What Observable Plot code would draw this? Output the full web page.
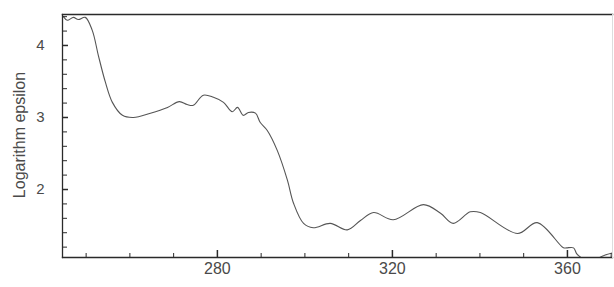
<!DOCTYPE html>
<html>
<head>
<meta charset="utf-8">
<script src="https://cdn.jsdelivr.net/npm/d3@7"></script>
<script src="https://cdn.jsdelivr.net/npm/@observablehq/plot@0.6"></script>
<style>
  html, body { margin: 0; padding: 0; background: #fff; }
  #chart svg { display: block; }
</style>
</head>
<body>
<div id="chart"></div>
<script>
// Wavelength (nm) and logarithm of epsilon
const wavelength = [244.8, 245.7, 247.1, 248.2, 249.8, 251.4, 252.8, 254.4, 256.0, 258.3,
  260.8, 264.7, 268.6, 271.3, 273.1, 274.5, 276.8, 279.1, 281.4, 283.4,
  284.6, 285.9, 287.1, 288.7, 289.8, 291.4, 293.7, 296.0, 297.4, 299.7,
  301.9, 305.8, 309.7, 312.7, 315.7, 320.2, 327.1, 331.0, 333.9, 337.8,
  340.1, 348.6, 353.1, 359.1, 359.8, 361.4, 362.1, 363.0, 364.5, 366.5,
  367.5, 370.3];
const logEpsilon = [4.40, 4.35, 4.39, 4.36, 4.39, 4.21, 3.86, 3.49, 3.21, 3.03,
  3.00, 3.06, 3.14, 3.22, 3.18, 3.17, 3.31, 3.28, 3.21, 3.08,
  3.14, 3.03, 3.07, 3.06, 2.93, 2.82, 2.54, 2.13, 1.81, 1.53,
  1.47, 1.53, 1.44, 1.57, 1.68, 1.58, 1.79, 1.67, 1.53, 1.69,
  1.68, 1.39, 1.54, 1.19, 1.19, 1.19, 1.11, 1.06, 1.00, 1.00,
  1.06, 1.12];
const xMajorTicks = [280, 320, 360];
const xMinorTicks = [250, 260, 270, 290, 300, 310, 330, 340, 350, 370];
const yMajorTicks = [2, 3, 4];
const yMinorTicks = [1.2, 1.4, 1.6, 1.8, 2.2, 2.4, 2.6, 2.8, 3.2, 3.4, 3.6, 3.8, 4.2, 4.4];
const yLabel = "Logarithm epsilon";

const data = wavelength.map((w, i) => ({w, e: logEpsilon[i]}));
const xDomain = [244.6, 370.3];
const yDomain = [1.056, 4.43];

const ink = "#2a2a2a";
const txt = "#4a4a4a";
const chart = Plot.plot({
  width: 614,
  height: 287,
  marginLeft: 62,
  marginRight: 2,
  marginTop: 14,
  marginBottom: 30,
  style: {fontFamily: "Liberation Sans, Arial, sans-serif", fontSize: "12px", color: txt, background: "#fff"},
  x: {domain: xDomain},
  y: {domain: yDomain},
  marks: [
    Plot.line(data, {x: "w", y: "e", stroke: "#555", strokeWidth: 1.1, curve: "catmull-rom", clip: true}),
    // frame
    Plot.frame({anchor: "top", stroke: ink, strokeWidth: 1.5}),
    Plot.frame({anchor: "left", stroke: ink, strokeWidth: 1.3}),
    Plot.frame({anchor: "bottom", stroke: ink, strokeWidth: 1.3}),
    Plot.frame({anchor: "right", stroke: "#ddd", strokeWidth: 1}),
    // x ticks (inward)
    Plot.axisX({ticks: xMinorTicks, tickSize: -4, text: null, stroke: ink, label: null}),
    Plot.axisX({ticks: xMajorTicks, tickSize: -7, text: null, stroke: ink, strokeWidth: 1.5, label: null}),
    Plot.axisX({ticks: xMajorTicks, tickSize: 0, tickPadding: 5, fill: txt, fontSize: 16, label: null}),
    // y ticks (inward)
    Plot.axisY({ticks: yMinorTicks, tickSize: -5, text: null, stroke: ink, label: null}),
    Plot.axisY({ticks: yMajorTicks, tickSize: -6, text: null, stroke: ink, strokeWidth: 1.5, label: null}),
    Plot.axisY({ticks: yMajorTicks, tickSize: 0, tickPadding: 18, tickFormat: d3.format("d"), fill: txt, fontSize: 15, label: null}),
    Plot.text([yLabel], {frameAnchor: "left", textAnchor: "middle", text: d => d, rotate: -90, dx: -42.5, dy: -1, fill: txt, fontSize: 16})
  ]
});
document.getElementById("chart").appendChild(chart);
</script>
</body>
</html>
